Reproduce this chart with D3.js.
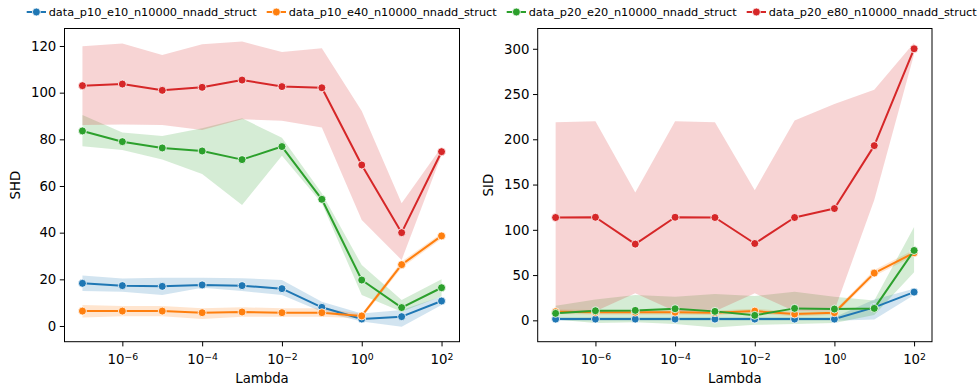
<!DOCTYPE html>
<html>
<head>
<meta charset="utf-8">
<script src="https://cdn.jsdelivr.net/npm/d3@7"></script>
<style>
  html, body { margin: 0; padding: 0; background: #fff; }
  svg { display: block; font-family: "DejaVu Sans", sans-serif; }
</style>
</head>
<body>
<svg id="chart" width="979" height="390"></svg>
<script>
// Regularisation strengths on the x axis
const lambdas = [1e-7, 1e-6, 1e-5, 1e-4, 1e-3, 1e-2, 1e-1, 1e0, 1e1, 1e2];
const xTickExps = [-6, -4, -2, 0, 2];

const seriesNames = [
  "data_p10_e10_n10000_nnadd_struct",
  "data_p10_e40_n10000_nnadd_struct",
  "data_p20_e20_n10000_nnadd_struct",
  "data_p20_e80_n10000_nnadd_struct"
];
const seriesColors = ["#1f77b4", "#ff7f0e", "#2ca02c", "#d62728"];

// SHD: mean and confidence band per dataset
const shd_p10_e10    = [18.3, 17.3, 17.0, 17.6, 17.3, 16.0, 8.0, 3.0, 4.0, 10.7];
const shd_p10_e10_lo = [15.0, 14.7, 13.3, 16.4, 15.0, 13.3, 6.1, 1.9, -0.3, 9.0];
const shd_p10_e10_hi = [21.6, 20.4, 20.7, 20.7, 20.5, 19.7, 10.4, 5.4, 6.9, 12.6];

const shd_p10_e40    = [6.4, 6.4, 6.4, 5.7, 6.0, 5.7, 5.7, 4.3, 26.3, 38.6];
const shd_p10_e40_lo = [3.6, 4.2, 4.2, 3.0, 4.0, 4.0, 4.0, 3.3, 25.0, 37.4];
const shd_p10_e40_hi = [9.0, 8.6, 8.6, 7.6, 8.0, 7.6, 7.6, 5.3, 27.6, 39.8];

const shd_p20_e20    = [83.6, 79.0, 76.3, 75.0, 71.3, 76.9, 54.3, 19.7, 7.9, 16.4];
const shd_p20_e20_lo = [77.0, 75.4, 71.4, 65.1, 51.9, 73.0, 52.6, 13.3, 6.1, 12.7];
const shd_p20_e20_hi = [90.4, 82.9, 81.4, 84.7, 89.0, 80.7, 56.9, 26.1, 11.1, 20.0];

const shd_p20_e80    = [103.0, 103.7, 101.0, 102.3, 105.4, 102.6, 102.1, 69.0, 40.0, 74.7];
const shd_p20_e80_lo = [86.1, 86.4, 86.1, 84.0, 88.6, 88.0, 85.1, 45.4, 28.3, 73.3];
const shd_p20_e80_hi = [119.9, 121.1, 116.1, 120.7, 121.9, 117.4, 119.0, 92.1, 52.6, 76.7];

// SID: mean and confidence band per dataset
const sid_p10_e10    = [1.4, 1.4, 1.4, 1.4, 1.4, 1.4, 1.4, 1.4, 14.3, 31.2];
const sid_p10_e10_lo = [-0.5, -0.5, -0.5, -0.5, -0.5, -0.5, -0.5, -0.5, 1.0, 28.0];
const sid_p10_e10_hi = [3.5, 3.5, 3.5, 3.5, 3.5, 3.5, 3.5, 3.5, 23.0, 35.0];

const sid_p10_e40    = [9.5, 9.0, 9.0, 9.0, 8.5, 10.2, 7.0, 8.4, 52.2, 74.6];
const sid_p10_e40_lo = [7.0, 6.5, 6.5, 6.5, 6.0, 7.7, 4.5, 5.9, 49.0, 71.0];
const sid_p10_e40_hi = [12.0, 11.5, 11.5, 11.5, 11.0, 12.7, 9.5, 10.9, 55.5, 78.0];

const sid_p20_e20    = [7.7, 10.6, 11.0, 12.8, 9.9, 5.5, 13.2, 12.5, 13.2, 77.2];
const sid_p20_e20_lo = [1.0, -3.0, -2.0, -4.0, -8.0, -5.0, -4.0, -3.0, 6.0, 53.0];
const sid_p20_e20_hi = [16.0, 23.0, 28.0, 26.0, 29.0, 27.0, 31.5, 26.0, 22.0, 103.0];

const sid_p20_e80    = [113.6, 113.9, 84.2, 113.9, 113.6, 84.9, 113.6, 123.5, 193.0, 300.0];
const sid_p20_e80_lo = [10.0, 10.0, 30.0, 10.0, 10.0, 30.0, 10.0, 11.0, 133.0, 294.0];
const sid_p20_e80_hi = [218.7, 219.8, 141.2, 219.8, 218.7, 143.7, 220.9, 238.9, 254.8, 306.6];

const shdTicks = [0, 20, 40, 60, 80, 100, 120];
const sidTicks = [0, 50, 100, 150, 200, 250, 300];

const shdSeries = [
  { mean: shd_p10_e10, lo: shd_p10_e10_lo, hi: shd_p10_e10_hi },
  { mean: shd_p10_e40, lo: shd_p10_e40_lo, hi: shd_p10_e40_hi },
  { mean: shd_p20_e20, lo: shd_p20_e20_lo, hi: shd_p20_e20_hi },
  { mean: shd_p20_e80, lo: shd_p20_e80_lo, hi: shd_p20_e80_hi }
];
const sidSeries = [
  { mean: sid_p10_e10, lo: sid_p10_e10_lo, hi: sid_p10_e10_hi },
  { mean: sid_p10_e40, lo: sid_p10_e40_lo, hi: sid_p10_e40_hi },
  { mean: sid_p20_e20, lo: sid_p20_e20_lo, hi: sid_p20_e20_hi },
  { mean: sid_p20_e80, lo: sid_p20_e80_lo, hi: sid_p20_e80_hi }
];

const svg = d3.select("#chart");
const TICK_FONT = 13.3;

function drawPanel(opts) {
  const { left, right, top, bottom, yDomain, yTicks, yLabel, yLabelX, series } = opts;

  const x = d3.scaleLog()
    .domain([Math.pow(10, -7.45), Math.pow(10, 2.45)])
    .range([left, right]);
  const y = d3.scaleLinear().domain(yDomain).range([bottom, top]);

  const g = svg.append("g");

  // Confidence bands sit beneath every line
  const area = d3.area()
    .x(d => x(d.l))
    .y0(d => y(d.lo))
    .y1(d => y(d.hi));
  series.forEach((s, i) => {
    const pts = lambdas.map((l, k) => ({ l, lo: s.lo[k], hi: s.hi[k] }));
    g.append("path")
      .attr("d", area(pts))
      .attr("fill", seriesColors[i])
      .attr("fill-opacity", 0.2)
      .attr("stroke", "none");
  });

  // Mean lines with markers
  const line = d3.line().x(d => x(d.l)).y(d => y(d.v));
  series.forEach((s, i) => {
    const pts = lambdas.map((l, k) => ({ l, v: s.mean[k] }));
    g.append("path")
      .attr("d", line(pts))
      .attr("fill", "none")
      .attr("stroke", seriesColors[i])
      .attr("stroke-width", 2)
      .attr("stroke-linejoin", "round")
      .attr("stroke-linecap", "round");
    g.selectAll(null)
      .data(pts)
      .enter()
      .append("circle")
      .attr("cx", d => x(d.l))
      .attr("cy", d => y(d.v))
      .attr("r", 4)
      .attr("fill", seriesColors[i])
      .attr("stroke", "#fff")
      .attr("stroke-width", 0.8);
  });

  // Frame
  g.append("rect")
    .attr("x", left).attr("y", top)
    .attr("width", right - left).attr("height", bottom - top)
    .attr("fill", "none")
    .attr("stroke", "#000")
    .attr("stroke-width", 1);

  // Y axis
  const yAxis = d3.axisLeft(y).tickValues(yTicks).tickSize(4.7).tickPadding(3.5);
  const ya = g.append("g").attr("transform", `translate(${left},0)`).call(yAxis);
  ya.select(".domain").remove();
  ya.selectAll(".tick line").attr("stroke", "#000").attr("stroke-width", 1);
  ya.selectAll(".tick text")
    .attr("fill", "#000")
    .style("font-family", "DejaVu Sans")
    .style("font-size", TICK_FONT + "px");

  // X axis, decade labels as powers of ten
  const xAxis = d3.axisBottom(x)
    .tickValues(xTickExps.map(e => Math.pow(10, e)))
    .tickSize(4.7)
    .tickPadding(3.5)
    .tickFormat(() => "");
  const xa = g.append("g").attr("transform", `translate(0,${bottom})`).call(xAxis);
  xa.select(".domain").remove();
  xa.selectAll(".tick line").attr("stroke", "#000").attr("stroke-width", 1);
  xa.selectAll(".tick text").remove();
  xa.selectAll(".tick").each(function (d) {
    const e = Math.round(Math.log10(d));
    const t = d3.select(this).append("text")
      .attr("y", 22.5)
      .attr("fill", "#000")
      .attr("text-anchor", "middle")
      .style("font-family", "DejaVu Sans")
      .style("font-size", TICK_FONT + "px");
    t.append("tspan").text("10");
    t.append("tspan")
      .attr("dy", "-0.45em")
      .style("font-size", (TICK_FONT * 0.7) + "px")
      .text(e < 0 ? "\u2212" + Math.abs(e) : String(e));
  });

  // Axis titles
  g.append("text")
    .attr("x", (left + right) / 2)
    .attr("y", 383)
    .attr("text-anchor", "middle")
    .style("font-size", TICK_FONT + "px")
    .attr("fill", "#000")
    .text("Lambda");
  g.append("text")
    .attr("transform", `translate(${yLabelX},${(top + bottom) / 2}) rotate(-90)`)
    .attr("text-anchor", "middle")
    .style("font-size", TICK_FONT + "px")
    .attr("fill", "#000")
    .text(yLabel);
}

drawPanel({
  left: 64.5, right: 459.5, top: 28.5, bottom: 341.7,
  yDomain: [-6.73, 127.5], yTicks: shdTicks, yLabel: "SHD", yLabelX: 19.5,
  series: shdSeries
});
drawPanel({
  left: 537.7, right: 932, top: 28.5, bottom: 341.7,
  yDomain: [-23.6, 322.4], yTicks: sidTicks, yLabel: "SID", yLabelX: 492.5,
  series: sidSeries
});

// Legend across the top
const legendX = [26.7, 266.7, 506.7, 746.7];
const legend = svg.append("g");
seriesNames.forEach((name, i) => {
  const lx = legendX[i];
  const ly = 12;
  legend.append("line")
    .attr("x1", lx).attr("x2", lx + 19.3)
    .attr("y1", ly).attr("y2", ly)
    .attr("stroke", seriesColors[i])
    .attr("stroke-width", 2);
  legend.append("circle")
    .attr("cx", lx + 9.7).attr("cy", ly)
    .attr("r", 4)
    .attr("fill", seriesColors[i])
    .attr("stroke", "#fff")
    .attr("stroke-width", 0.8);
  legend.append("text")
    .attr("x", lx + 22)
    .attr("y", ly + 4)
    .attr("fill", "#000")
    .style("font-size", "11.3px")
    .text(name);
});
</script>
</body>
</html>
